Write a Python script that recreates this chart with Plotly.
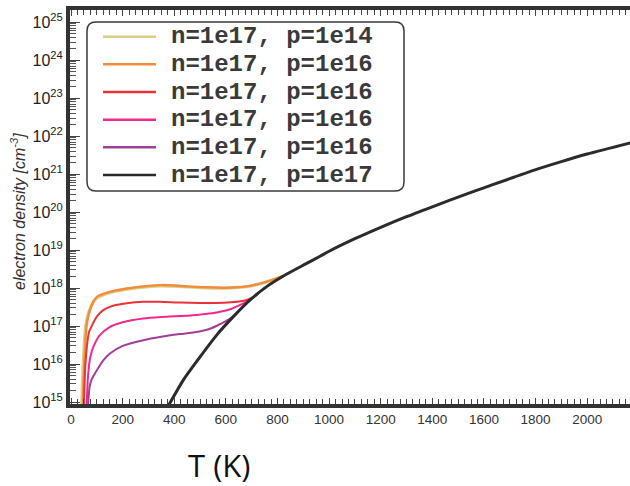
import plotly.graph_objects as go

# ---------------- data ----------------
names = ["n=1e17, p=1e14", "n=1e17, p=1e16", "n=1e17, p=1e16",
         "n=1e17, p=1e16", "n=1e17, p=1e16", "n=1e17, p=1e17"]
colors = ["#d9cf86", "#f28c3c", "#ea3338", "#ef2a8c", "#a23d98", "#2b2b2b"]

# temperature (K) and log10(electron density / cm^-3)
T_yellow = [40, 42, 46, 52, 57, 68, 85, 100, 150, 216, 300, 345, 400, 461, 550, 603, 694, 758, 823]
log_yellow = [14.5, 15.0, 15.8, 16.6, 17.0, 17.35, 17.62, 17.74, 17.88, 17.97, 18.04, 18.06, 18.05, 18.03, 18.0, 18.0, 18.05, 18.16, 18.31]

T_orange = [44, 46, 50, 55, 60, 70, 87, 100, 150, 216, 300, 345, 400, 461, 550, 603, 694, 758, 823]
log_orange = [14.5, 15.0, 15.8, 16.5, 17.0, 17.35, 17.65, 17.77, 17.9, 17.99, 18.06, 18.08, 18.07, 18.04, 18.02, 18.01, 18.06, 18.17, 18.32]

T_red = [48, 50, 55, 62, 70, 80, 100, 125, 160, 216, 280, 345, 422, 500, 560, 620, 670, 700, 725]
log_red = [14.5, 15.0, 15.9, 16.5, 16.85, 17.0, 17.25, 17.42, 17.53, 17.6, 17.64, 17.64, 17.62, 17.61, 17.61, 17.63, 17.67, 17.74, 17.85]

T_pink = [58, 61, 66, 75, 87, 110, 151, 200, 280, 350, 461, 520, 565, 620, 660, 700, 725]
log_pink = [14.5, 15.0, 15.7, 16.2, 16.46, 16.75, 16.98, 17.1, 17.2, 17.24, 17.28, 17.32, 17.36, 17.45, 17.57, 17.72, 17.85]

T_purple = [64, 67, 72, 80, 100, 125, 151, 200, 280, 350, 422, 480, 530, 565, 600, 629]
log_purple = [14.5, 15.0, 15.4, 15.6, 15.84, 16.1, 16.28, 16.48, 16.63, 16.72, 16.79, 16.84, 16.91, 17.01, 17.13, 17.25]

T_black = [360, 381, 435, 500, 565, 629, 694, 758, 823, 913, 965, 1000, 1100, 1200,
           1300, 1400, 1534, 1600, 1792, 1900, 2000, 2171]
log_black = [14.7, 14.95, 15.58, 16.19, 16.77, 17.25, 17.69, 18.04, 18.32, 18.65, 18.84, 18.97,
             19.30, 19.60, 19.88, 20.14, 20.48, 20.64, 21.10, 21.33, 21.53, 21.83]

y_exponents = list(range(15, 26))
x_ticks = [0, 200, 400, 600, 800, 1000, 1200, 1400, 1600, 1800, 2000]

series = [
    (T_yellow, log_yellow, 3.2),
    (T_orange, log_orange, 2.4),
    (T_red, log_red, 2.0),
    (T_pink, log_pink, 2.0),
    (T_purple, log_purple, 2.0),
    (T_black, log_black, 3.0),
]

# ---------------- figure ----------------
W, H = 630, 486
ML, MT, MR, MB = 70, 10, 0, 82
PW, PH = W - ML - MR, H - MT - MB


def px(x):
    return (x - ML) / PW


def py(y):
    return (H - MB - y) / PH


fig = go.Figure()
for (T, lg, w), name, c in zip(series, names, colors):
    fig.add_trace(go.Scatter(
        x=T, y=[10.0 ** v for v in lg], mode="lines", name=name,
        line=dict(color=c, width=w, shape="spline", smoothing=0.7),
        showlegend=False, hoverinfo="skip"))

axis_col = "#333333"
fig.update_xaxes(
    range=[-4, 2166], tickvals=x_ticks, ticktext=[str(v) for v in x_ticks],
    showline=True, linewidth=4, linecolor=axis_col, mirror="ticks",
    ticks="inside", ticklen=6, tickwidth=1, tickcolor="#444",
    minor=dict(ticks="inside", ticklen=5, dtick=25, tickcolor="#444", showgrid=False),
    showgrid=False, zeroline=False,
    tickfont=dict(family="Liberation Sans", size=13.5, color="#333"))

fig.update_yaxes(
    type="log", range=[14.95, 25.32],
    tickvals=[10.0 ** k for k in y_exponents],
    ticktext=[f"10<sup>{k}</sup>" for k in y_exponents],
    showline=True, linewidth=4, linecolor=axis_col, mirror=False,
    ticks="inside", ticklen=10, tickwidth=1, tickcolor="#444",
    minor=dict(ticks="inside", ticklen=6, dtick="D1", tickcolor="#555", showgrid=False),
    showgrid=False, zeroline=False,
    tickfont=dict(family="Liberation Sans", size=16, color="#222"))

# ---- legend drawn as a rounded box ----
bx0, bx1, by0, by1, r = 87, 404, 22, 191, 9
path = (f"M{px(bx0 + r)},{py(by0)} L{px(bx1 - r)},{py(by0)} "
        f"Q{px(bx1)},{py(by0)} {px(bx1)},{py(by0 + r)} "
        f"L{px(bx1)},{py(by1 - r)} Q{px(bx1)},{py(by1)} {px(bx1 - r)},{py(by1)} "
        f"L{px(bx0 + r)},{py(by1)} Q{px(bx0)},{py(by1)} {px(bx0)},{py(by1 - r)} "
        f"L{px(bx0)},{py(by0 + r)} Q{px(bx0)},{py(by0)} {px(bx0 + r)},{py(by0)} Z")
shapes = [dict(type="path", path=path, xref="paper", yref="paper",
               line=dict(color="#3a3a3a", width=1.5), fillcolor="white", layer="above")]
annotations = []
row0, row_gap = 36.7, 27.66
for i, (name, c) in enumerate(zip(names, colors)):
    yy = row0 + i * row_gap
    shapes.append(dict(type="line", xref="paper", yref="paper",
                       x0=px(103), x1=px(156), y0=py(yy), y1=py(yy),
                       line=dict(color=c, width=2.5), layer="above"))
    annotations.append(dict(text=f"<b>{name}</b>", xref="paper", yref="paper",
                            x=px(169), y=py(yy), xanchor="left", yanchor="middle",
                            showarrow=False,
                            font=dict(family="Liberation Mono", size=24, color="#3a3a3a")))

annotations.append(dict(text="<i>electron density [cm<sup>-3</sup>]</i>", xref="paper", yref="paper",
                        x=px(18), y=py(212), textangle=-90, showarrow=False,
                        xanchor="center", yanchor="middle",
                        font=dict(family="Liberation Sans", size=16, color="#333")))
annotations.append(dict(text="T (K)", xref="paper", yref="paper",
                        x=px(219), y=py(465), showarrow=False,
                        xanchor="center", yanchor="middle",
                        font=dict(family="Open Sans", size=31, color="#111")))

fig.update_layout(
    width=W, height=H, margin=dict(l=ML, r=MR, t=MT, b=MB),
    plot_bgcolor="white", paper_bgcolor="white",
    shapes=shapes, annotations=annotations, showlegend=False)

fig.write_html("out.html")
